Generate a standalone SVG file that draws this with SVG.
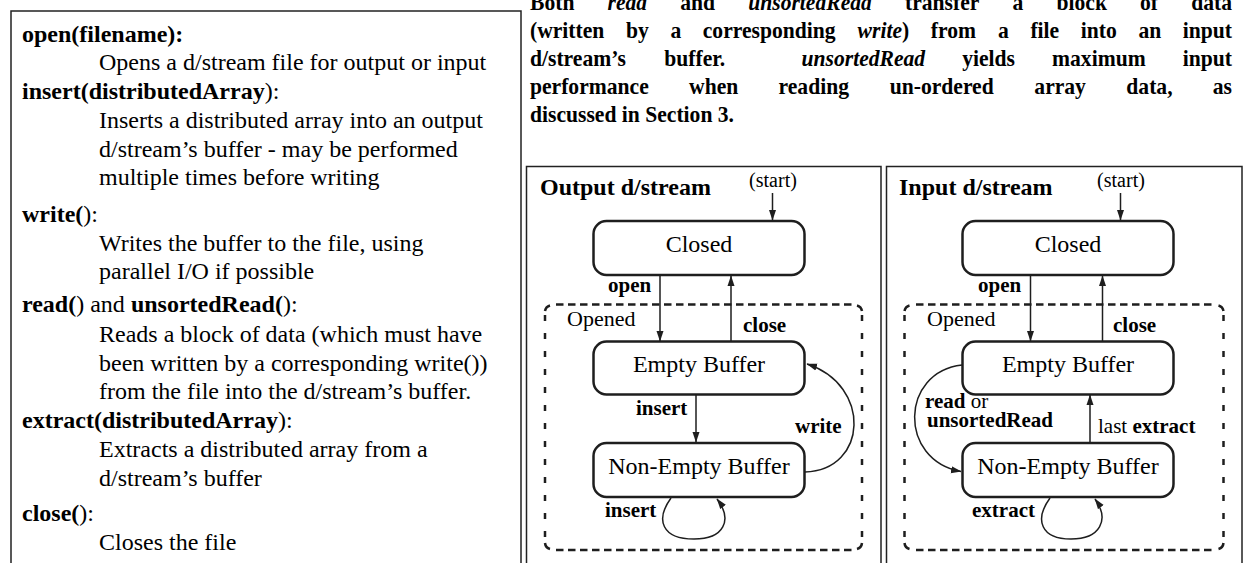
<svg xmlns="http://www.w3.org/2000/svg" width="1243" height="563" viewBox="0 0 1243 563">
<style>
text{font-family:"Liberation Serif","Times New Roman",serif;fill:#000}
.b{font-weight:bold}
.r{font-weight:normal}
.i{font-style:italic}
.d{font-size:24px}
.lab{font-size:21px;font-weight:bold}
.nt{font-size:24px;text-anchor:middle}
.st{font-size:20px;text-anchor:middle}
.op{font-size:22px}
.node{fill:#fff;stroke:#1e1e1e;stroke-width:2.5}
.panel{fill:none;stroke:#222;stroke-width:1.5}
.conn{fill:none;stroke:#1e1e1e;stroke-width:1.5;marker-end:url(#ah)}
.dh{fill:none;stroke:#1e1e1e;stroke-width:2.5;stroke-dasharray:7.5 4.5}
.dv{fill:none;stroke:#1e1e1e;stroke-width:2.5;stroke-dasharray:6 12}
.dc{fill:none;stroke:#1e1e1e;stroke-width:2.5}
</style>
<defs>
<marker id="ah" markerWidth="11" markerHeight="8" refX="10" refY="4" orient="auto" markerUnits="userSpaceOnUse"><path d="M0,0.5 L10.5,4 L0,7.5 z" fill="#1e1e1e"/></marker>
</defs>
<rect width="1243" height="563" fill="#fff"/>

<g id="api-list">
<rect class="panel" x="11" y="11" width="510" height="600"/>
<text class="d" x="22" y="41.5"><tspan class="b">open(filename):</tspan></text>
<text class="d" x="99" y="70">Opens a d/stream file for output or input</text>
<text class="d" x="22" y="98.5"><tspan class="b">insert(distributedArray</tspan>):</text>
<text class="d" x="99" y="127.5">Inserts a distributed array into an output</text>
<text class="d" x="99" y="156.5">d/stream’s buffer - may be performed</text>
<text class="d" x="99" y="185">multiple times before writing</text>
<text class="d" x="22" y="221.5"><tspan class="b">write(</tspan>):</text>
<text class="d" x="99" y="250.5">Writes the buffer to the file, using</text>
<text class="d" x="99" y="279">parallel I/O if possible</text>
<text class="d" x="22" y="311.5"><tspan class="b">read(</tspan>) and <tspan class="b">unsortedRead(</tspan>):</text>
<text class="d" x="99" y="341.5">Reads a block of data (which must have</text>
<text class="d" x="99" y="370.5">been written by a corresponding write())</text>
<text class="d" x="99" y="399">from the file into the d/stream’s buffer.</text>
<text class="d" x="22" y="428"><tspan class="b">extract(distributedArray</tspan>):</text>
<text class="d" x="99" y="457">Extracts a distributed array from a</text>
<text class="d" x="99" y="486">d/stream’s buffer</text>
<text class="d" x="22" y="520.5"><tspan class="b">close(</tspan>):</text>
<text class="d" x="99" y="549.5">Closes the file</text>
</g>

<g id="caption" class="b d">
<text class="b d" transform="translate(530 10) scale(0.9 1)"><tspan x="0">Both</tspan>
<tspan x="86.2" class="i">read</tspan>
<tspan x="167">and</tspan>
<tspan x="242.5" class="i">unsortedRead</tspan>
<tspan x="416.7">transfer</tspan>
<tspan x="536.2">a</tspan>
<tspan x="585">block</tspan>
<tspan x="677.8">of</tspan>
<tspan x="734.7">data</tspan></text>
<text class="b d" transform="translate(530 38) scale(0.9 1)"><tspan x="0">(written</tspan>
<tspan x="106.7">by</tspan>
<tspan x="156">a</tspan>
<tspan x="192">corresponding</tspan>
<tspan x="364"><tspan class="i">write</tspan>)</tspan>
<tspan x="445.3">from</tspan>
<tspan x="520">a</tspan>
<tspan x="556">file</tspan>
<tspan x="612">into</tspan>
<tspan x="676">an</tspan>
<tspan x="725.3">input</tspan></text>
<text class="b d" transform="translate(530 66) scale(0.9 1)"><tspan x="0">d/stream’s</tspan>
<tspan x="149.2">buffer.</tspan>
<tspan x="301.7" class="i">unsortedRead</tspan>
<tspan x="480.2">yields</tspan>
<tspan x="580.1">maximum</tspan>
<tspan x="725.3">input</tspan></text>
<text class="b d" transform="translate(530 94) scale(0.9 1)"><tspan x="0">performance</tspan>
<tspan x="176.8">when</tspan>
<tspan x="276.2">reading</tspan>
<tspan x="399.7">un-ordered</tspan>
<tspan x="560.4">array</tspan>
<tspan x="662.6">data,</tspan>
<tspan x="758.7">as</tspan></text>
<text class="b d" transform="translate(530 122) scale(0.9 1)">discussed in Section 3.</text>
</g>

<g id="output-panel">
<rect class="panel" x="526.5" y="166.5" width="354.5" height="420"/>
<text class="b d" x="540" y="195">Output d/stream</text>
<text class="st" x="773" y="187">(start)</text>
</g>
<g id="output-opened">
<path class="dh" d="M556,304.5 H852 M556,550 H852"/>
<path class="dv" d="M545,315 V540 M862,315 V540"/>
<path class="dc" d="M545,311 A7,7 0 0 1 550,305.5 M857,305.5 A7,7 0 0 1 862,311 M862,543 A7,7 0 0 1 857,549 M550,549 A7,7 0 0 1 545,543"/>
<text class="op" x="567" y="326">Opened</text>
</g>
<g id="out-closed"><rect class="node" x="593.5" y="221" width="211" height="54" rx="13"/><text class="nt" x="699" y="252">Closed</text></g>
<g id="out-empty"><rect class="node" x="593.5" y="341.5" width="211" height="53" rx="13"/><text class="nt" x="699" y="372">Empty Buffer</text></g>
<g id="out-nonempty"><rect class="node" x="593.5" y="443" width="211" height="54" rx="13"/><text class="nt" x="699" y="474">Non-Empty Buffer</text></g>

<g id="input-panel">
<rect class="panel" x="886.5" y="166.5" width="355.5" height="420"/>
<text class="b d" x="899" y="195">Input d/stream</text>
<text class="st" x="1121" y="187">(start)</text>
</g>
<g id="input-opened">
<path class="dh" d="M916,304.5 H1212 M916,550 H1212"/>
<path class="dv" d="M904.5,315 V540 M1223.5,315 V540"/>
<path class="dc" d="M904.5,311 A7,7 0 0 1 909.5,305.5 M1218.5,305.5 A7,7 0 0 1 1223.5,311 M1223.5,543 A7,7 0 0 1 1218.5,549 M909.5,549 A7,7 0 0 1 904.5,543"/>
<text class="op" x="927" y="326">Opened</text>
</g>
<g id="in-closed"><rect class="node" x="962.5" y="221" width="211" height="54" rx="13"/><text class="nt" x="1068" y="252">Closed</text></g>
<g id="in-empty"><rect class="node" x="962.5" y="341.5" width="211" height="53" rx="13"/><text class="nt" x="1068" y="372">Empty Buffer</text></g>
<g id="in-nonempty"><rect class="node" x="962.5" y="443" width="211" height="54" rx="13"/><text class="nt" x="1068" y="474">Non-Empty Buffer</text></g>

<g id="connectors">
<path class="conn" d="M772.5,193 V220"/>
<path class="conn" d="M660,275 V341"/>
<path class="conn" d="M731,341 V276"/>
<path class="conn" d="M696,394.5 V442"/>
<path class="conn" d="M805,472 C868,470 872,385 807,364"/>
<path class="conn" d="M671,498 C655,520 662,539 694,539 C724,539 733,520 717,499"/>
<path class="conn" d="M1120.5,193 V220"/>
<path class="conn" d="M1030.5,275 V341"/>
<path class="conn" d="M1102.5,341 V276"/>
<path class="conn" d="M1090,443 V395"/>
<path class="conn" d="M962,365 C900,372 898,460 961,471.5"/>
<path class="conn" d="M1050,498 C1034,520 1041,539 1071,539 C1100,539 1110,520 1095,499"/>
<text class="lab" x="608" y="292">open</text>
<text class="lab" x="743" y="332">close</text>
<text class="lab" x="636" y="415">insert</text>
<text class="lab" x="795" y="433">write</text>
<text class="lab" x="605" y="517">insert</text>
<text class="lab" x="978" y="292">open</text>
<text class="lab" x="1113" y="332">close</text>
<text class="lab" x="925" y="408">read<tspan class="r"> or</tspan></text>
<text class="lab" x="927" y="427">unsortedRead</text>
<text class="lab" x="1098" y="433"><tspan class="r">last </tspan>extract</text>
<text class="lab" x="972" y="517">extract</text>
</g>
</svg>
